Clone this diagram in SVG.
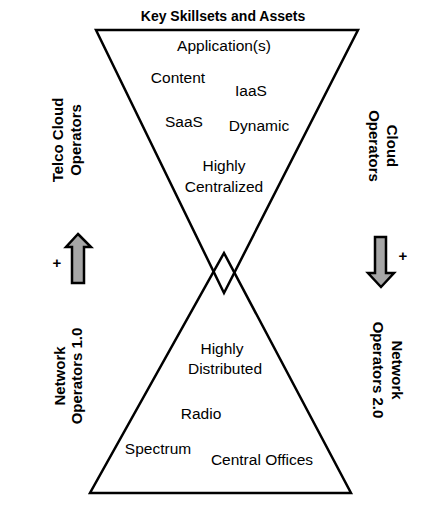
<svg xmlns="http://www.w3.org/2000/svg" width="428" height="512" viewBox="0 0 428 512">
<style>
.t{font-family:"Liberation Sans",Arial,sans-serif;font-size:15.5px;fill:#000;text-anchor:middle}
.b{font-weight:bold;font-size:15px}
.tri{fill:none;stroke:#000;stroke-width:2.5;stroke-linejoin:miter}
.arr{fill:#a6a6a6;stroke:#000;stroke-width:2.5;stroke-linejoin:miter}
</style>
<rect width="428" height="512" fill="#fff"/>
<g id="top-triangle">
<polygon class="tri" points="96,30 358,30 224,293"/>
<text class="t" x="224" y="51">Application(s)</text>
<text class="t" x="178" y="83">Content</text>
<text class="t" x="251" y="96">IaaS</text>
<text class="t" x="184" y="127">SaaS</text>
<text class="t" x="259" y="131">Dynamic</text>
<text class="t" x="224" y="171">Highly</text>
<text class="t" x="224" y="192">Centralized</text>
</g>
<g id="bottom-triangle">
<polygon class="tri" points="224,253 351,493 90,493"/>
<text class="t" x="222" y="354">Highly</text>
<text class="t" x="225" y="374">Distributed</text>
<text class="t" x="201" y="419">Radio</text>
<text class="t" x="158" y="454">Spectrum</text>
<text class="t" x="262" y="465">Central Offices</text>
</g>
<g id="title">
<text class="t b" x="223" y="21" style="font-size:14px">Key Skillsets and Assets</text>
</g>
<g id="telco-cloud-operators">
<text class="t b" transform="translate(63,140) rotate(-90)">Telco Cloud</text>
<text class="t b" transform="translate(81,140) rotate(-90)">Operators</text>
</g>
<g id="cloud-operators">
<text class="t b" transform="translate(387,146) rotate(90)">Cloud</text>
<text class="t b" transform="translate(369,146) rotate(90)">Operators</text>
</g>
<g id="network-operators-1">
<text class="t b" transform="translate(65,376) rotate(-90)">Network</text>
<text class="t b" transform="translate(82,376) rotate(-90)">Operators 1.0</text>
</g>
<g id="network-operators-2">
<text class="t b" transform="translate(392,370) rotate(90)">Network</text>
<text class="t b" transform="translate(373,370) rotate(90)">Operators 2.0</text>
</g>
<g id="connectors">
<g id="up-arrow">
<polygon class="arr" points="78,234 91,247 84,247 84,283 72,283 72,247 66,247"/>
<text class="t b" x="57" y="268">+</text>
</g>
<g id="down-arrow">
<polygon class="arr" points="375,237 386,237 386,273 394,273 381,287 368,273 375,273"/>
<text class="t b" x="403" y="261">+</text>
</g>
</g>
</svg>
